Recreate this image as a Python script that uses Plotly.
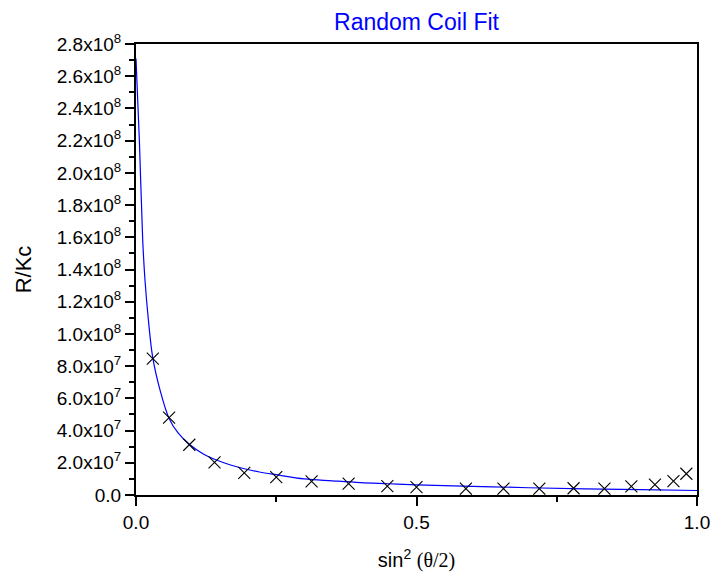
import plotly.graph_objects as go

# Measured data: sin^2(theta/2) vs R/Kc
x_data = [0.030, 0.059, 0.095, 0.140, 0.193, 0.250, 0.313, 0.379, 0.448, 0.500,
          0.588, 0.655, 0.719, 0.780, 0.835, 0.883, 0.925, 0.958, 0.981]
y_data = [8.47e7, 4.80e7, 3.12e7, 2.02e7, 1.38e7, 1.11e7, 8.4e6, 7.0e6, 5.5e6, 4.9e6,
          3.9e6, 3.9e6, 3.9e6, 4.2e6, 3.9e6, 5.3e6, 6.5e6, 8.6e6, 1.32e7]

# Random coil fit curve
x_fit = [0.0, 0.006, 0.012, 0.016, 0.022, 0.030, 0.043, 0.059, 0.075, 0.095,
         0.120, 0.140, 0.170, 0.193, 0.220, 0.250, 0.300, 0.350, 0.400, 0.450,
         0.500, 0.600, 0.700, 0.800, 0.900, 1.000]
y_fit = [2.71e8, 2.20e8, 1.58e8, 1.335e8, 1.09e8, 8.5e7, 6.5e7, 4.75e7, 3.85e7, 3.15e7,
         2.55e7, 2.22e7, 1.85e7, 1.63e7, 1.43e7, 1.26e7, 1.0e7, 8.8e6, 7.7e6, 7.0e6,
         6.3e6, 5.4e6, 4.5e6, 3.8e6, 3.3e6, 2.8e6]

y_tickvals = [0, 2e7, 4e7, 6e7, 8e7, 1e8, 1.2e8, 1.4e8, 1.6e8, 1.8e8, 2.0e8,
              2.2e8, 2.4e8, 2.6e8, 2.8e8]
y_ticktext = ["0.0", "2.0x10<sup>7</sup>", "4.0x10<sup>7</sup>", "6.0x10<sup>7</sup>",
              "8.0x10<sup>7</sup>", "1.0x10<sup>8</sup>", "1.2x10<sup>8</sup>",
              "1.4x10<sup>8</sup>", "1.6x10<sup>8</sup>", "1.8x10<sup>8</sup>",
              "2.0x10<sup>8</sup>", "2.2x10<sup>8</sup>", "2.4x10<sup>8</sup>",
              "2.6x10<sup>8</sup>", "2.8x10<sup>8</sup>"]
x_tickvals = [0.0, 0.5, 1.0]
x_ticktext = ["0.0", "0.5", "1.0"]

FONT = "Arial, 'Liberation Sans', sans-serif"

fig = go.Figure()
fig.add_trace(go.Scatter(x=x_fit, y=y_fit, mode="lines", line=dict(color="#0000ff", width=1.2),
                         line_shape="spline", showlegend=False))
fig.add_trace(go.Scatter(x=x_data, y=y_data, mode="markers",
                         marker=dict(symbol="x-thin", size=12, line=dict(color="black", width=1.1)),
                         showlegend=False))

fig.update_layout(
    width=713, height=572,
    margin=dict(l=136, r=16, t=44, b=77),
    paper_bgcolor="white", plot_bgcolor="white",
    font=dict(family=FONT, color="black", size=18),
    title=dict(text="Random Coil Fit", font=dict(color="#0000ff", size=23, family=FONT),
               x=(136 + 280.5) / 713, xanchor="center", y=1 - 22 / 572, yanchor="middle"),
    xaxis=dict(range=[0, 1], tickvals=x_tickvals, ticktext=x_ticktext, automargin=False,
               showgrid=False, zeroline=False, showline=True, linecolor="black", linewidth=2,
               mirror=True, ticks="outside", ticklen=9, tickwidth=1.5, tickcolor="black",
               tickfont=dict(size=19),
               minor=dict(tickvals=[0.25, 0.75], ticks="outside", ticklen=5, tickwidth=1.5,
                          tickcolor="black", showgrid=False),
               title=dict(text='sin<sup>2</sup> <span style="font-family:Liberation Serif">(θ/2)</span>',
                          font=dict(size=20), standoff=24)),
    yaxis=dict(range=[0, 2.8e8], tickvals=y_tickvals, ticktext=y_ticktext, automargin=False,
               showgrid=False, zeroline=False, showline=True, linecolor="black", linewidth=2,
               mirror=True, ticks="outside", ticklen=9, tickwidth=1.5, tickcolor="black",
               tickfont=dict(size=19),
               minor=dict(dtick=1e7, ticks="outside", ticklen=5, tickwidth=1.5,
                          tickcolor="black", showgrid=False),
               title=dict(text="R/Kc", font=dict(size=22), standoff=19)),
)

fig.write_html("out.html")
